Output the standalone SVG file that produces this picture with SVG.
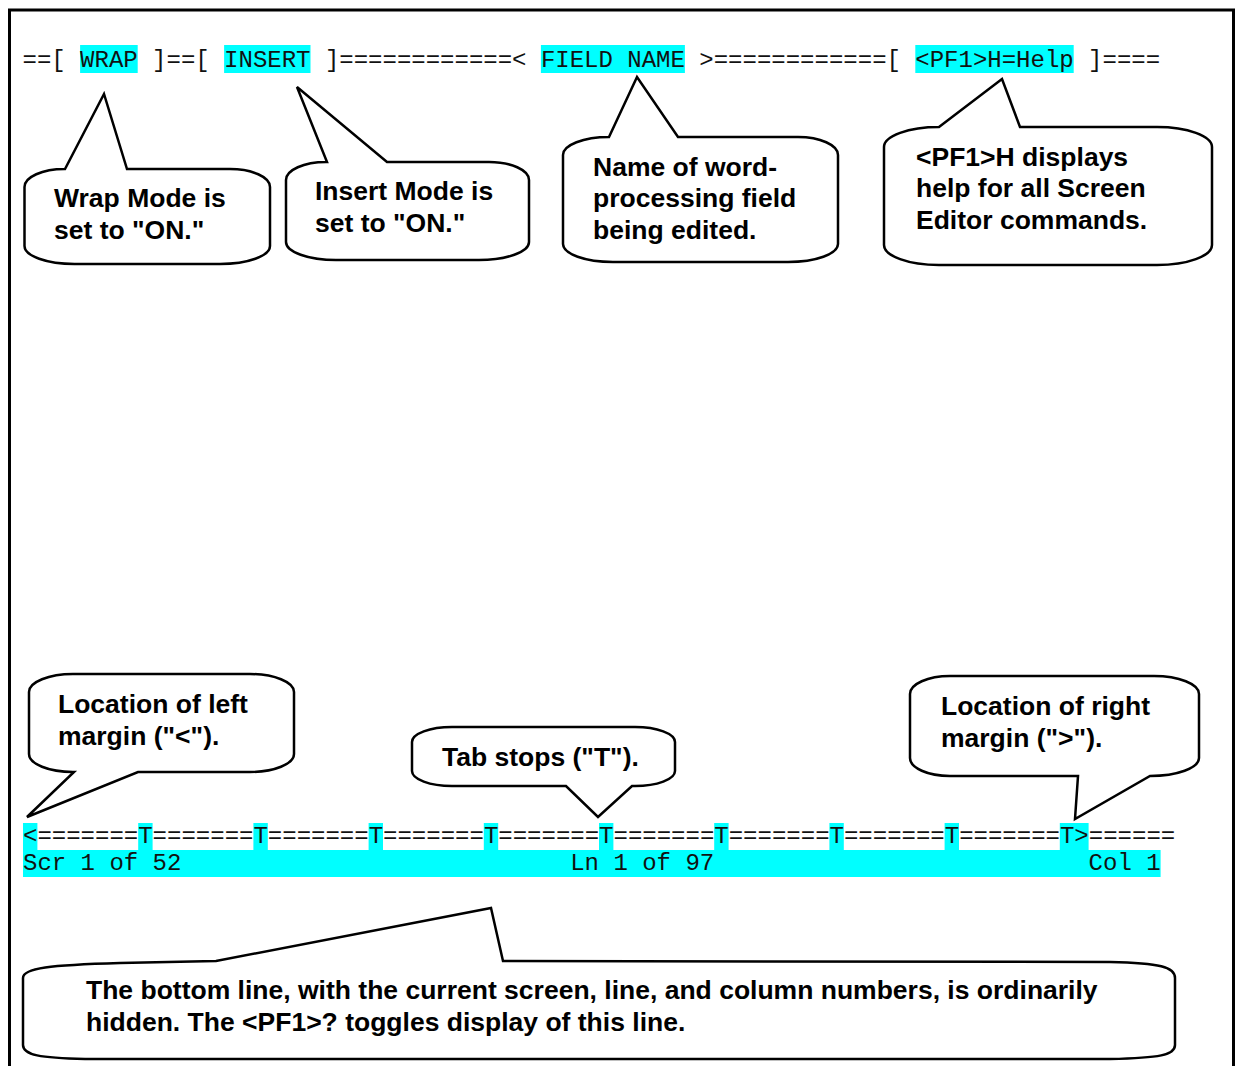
<svg xmlns="http://www.w3.org/2000/svg" width="1235" height="1066" viewBox="0 0 1235 1066">
<style>
.mono{font-family:"Liberation Mono","Courier New",monospace;font-size:24px;fill:#111;}
.hl{fill:#00ffff;}
.co{fill:#fff;stroke:#000;stroke-width:2.5;stroke-linejoin:miter;}
.lbl{font-family:"Liberation Sans",Arial,sans-serif;font-weight:bold;font-size:26.5px;fill:#000;}
</style>
<rect x="0" y="0" width="1235" height="1066" fill="#fff"/>
<rect id="frame" x="9.5" y="10" width="1224" height="1100" fill="none" stroke="#000" stroke-width="3"/>

<g id="status-top">
<rect class="hl" x="80.1" y="45" width="57.6" height="28"/>
<rect class="hl" x="224.1" y="45" width="86.4" height="28"/>
<rect class="hl" x="540.9" y="45" width="144" height="28"/>
<rect class="hl" x="915.3" y="45" width="158.4" height="28"/>
<text class="mono" x="22.5" y="67">==[</text>
<text class="mono" x="80.1" y="67">WRAP</text>
<text class="mono" x="152.1" y="67">]==[</text>
<text class="mono" x="224.1" y="67">INSERT</text>
<text class="mono" x="324.9" y="67">]============&lt;</text>
<text class="mono" x="540.9" y="67">FIELD NAME</text>
<text class="mono" x="699.3" y="67">&gt;============[</text>
<text class="mono" x="915.3" y="67">&lt;PF1&gt;H=Help</text>
<text class="mono" x="1088.1" y="67">]====</text>
</g>

<g id="ruler">
<rect class="hl" x="23" y="823" width="14.4" height="27"/>
<rect class="hl" x="138.2" y="823" width="14.4" height="27"/>
<rect class="hl" x="253.4" y="823" width="14.4" height="27"/>
<rect class="hl" x="368.6" y="823" width="14.4" height="27"/>
<rect class="hl" x="483.8" y="823" width="14.4" height="27"/>
<rect class="hl" x="599" y="823" width="14.4" height="27"/>
<rect class="hl" x="714.2" y="823" width="14.4" height="27"/>
<rect class="hl" x="829.4" y="823" width="14.4" height="27"/>
<rect class="hl" x="944.6" y="823" width="14.4" height="27"/>
<rect class="hl" x="1059.8" y="823" width="28.8" height="27"/>
<text class="mono" x="23" y="843">&lt;=======T=======T=======T=======T=======T=======T=======T=======T=======T&gt;======</text>
</g>

<g id="status-bottom">
<rect class="hl" x="23" y="850" width="1137.6" height="27"/>
<text class="mono" x="23" y="870">Scr 1 of 52</text>
<text class="mono" x="570.2" y="870">Ln 1 of 97</text>
<text class="mono" x="1088.6" y="870">Col 1</text>
</g>

<g id="connectors"></g>

<g id="callout-wrap">
<path class="co" d="M 24.5,187 C 24.5,177 42.5,169 64.5,169 L 65,169 L 104,94 L 127,169 L 230,169 C 252,169 270,177 270,187 L 270,246 C 270,256 247.6,264 220,264 L 74.5,264 C 46.9,264 24.5,256 24.5,246 Z"/>
<text class="lbl" x="54" y="207">Wrap Mode is</text>
<text class="lbl" x="54" y="239">set to "ON."</text>
</g>

<g id="callout-insert">
<path class="co" d="M 286,180 C 286,170 304,162 326,162 L 327,162 L 297,87 L 387,162 L 489,162 C 511,162 529,170 529,180 L 529,242 C 529,252 506.6,260 479,260 L 336,260 C 308.4,260 286,252 286,242 Z"/>
<text class="lbl" x="315" y="200">Insert Mode is</text>
<text class="lbl" x="315" y="232">set to "ON."</text>
</g>

<g id="callout-field">
<path class="co" d="M 563,155 C 563,145 583.6,137 609,137 L 637,77 L 678,137 L 798,137 C 820,137 838,145 838,155 L 838,244 C 838,254 815.6,262 788,262 L 613,262 C 585.4,262 563,254 563,244 Z"/>
<text class="lbl" x="593" y="176">Name of word-</text>
<text class="lbl" x="593" y="207">processing field</text>
<text class="lbl" x="593" y="239">being edited.</text>
</g>

<g id="callout-help">
<path class="co" d="M 884,147 C 884,136 908.6,127 939,127 L 1002,79 L 1020,127 L 1157,127 C 1187.4,127 1212,136 1212,147 L 1212,245 C 1212,256 1187.4,265 1157,265 L 939,265 C 908.6,265 884,256 884,245 Z"/>
<text class="lbl" x="916" y="166">&lt;PF1&gt;H displays</text>
<text class="lbl" x="916" y="197">help for all Screen</text>
<text class="lbl" x="916" y="229">Editor commands.</text>
</g>

<g id="callout-left-margin">
<path class="co" d="M 29,692 C 29,682 49,674 73,674 L 250,674 C 274,674 294,682 294,692 L 294,754 C 294,764 274,772 250,772 L 138,772 L 27,817 L 74,772 L 73,772 C 49,772 29,764 29,754 Z"/>
<text class="lbl" x="58" y="713">Location of left</text>
<text class="lbl" x="58" y="745">margin ("&lt;").</text>
</g>

<g id="callout-tabs">
<path class="co" d="M 412,742 C 412,733.7 430,727 452,727 L 635,727 C 657,727 675,733.7 675,742 L 675,771 C 675,779.3 657,786 635,786 L 632,786 L 598,817 L 566,786 L 452,786 C 430,786 412,779.3 412,771 Z"/>
<text class="lbl" x="442" y="766">Tab stops ("T").</text>
</g>

<g id="callout-right-margin">
<path class="co" d="M 910,694 C 910,684 928,676 950,676 L 1154,676 C 1178.8,676 1199,684 1199,694 L 1199,758 C 1199,768 1177,776 1150,776 L 1075,819 L 1078,776 L 950,776 C 928,776 910,768 910,758 Z"/>
<text class="lbl" x="941" y="715">Location of right</text>
<text class="lbl" x="941" y="747">margin ("&gt;").</text>
</g>

<g id="callout-bottom-line">
<path class="co" d="M 23,978 C 23,968 50,965 120,963 L 216,961 L 491,908 L 503,961 L 1110,962 C 1160,963 1175,967 1175,978 L 1175,1045 C 1175,1055 1160,1058 1110,1059 L 85,1059 C 40,1058 23,1055 23,1045 Z"/>
<text class="lbl" x="86" y="999">The bottom line, with the current screen, line, and column numbers, is ordinarily</text>
<text class="lbl" x="86" y="1031">hidden. The &lt;PF1&gt;? toggles display of this line.</text>
</g>
</svg>
